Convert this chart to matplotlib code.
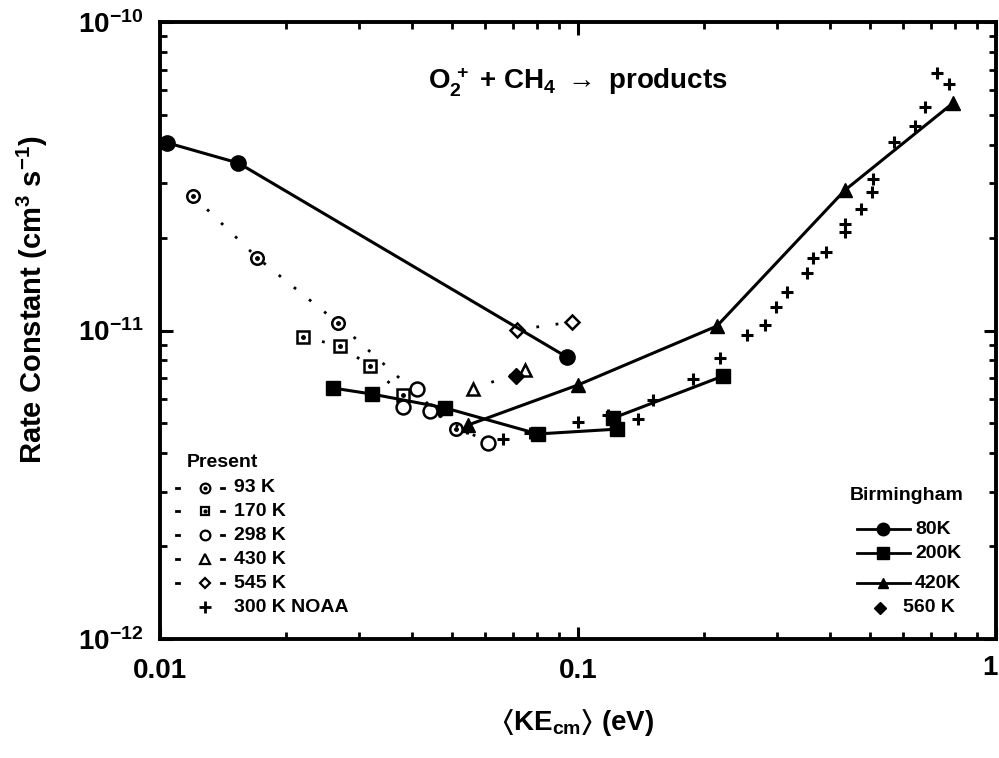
import matplotlib
matplotlib.use("Agg")
import matplotlib.pyplot as plt
from matplotlib.ticker import FixedLocator, FixedFormatter, LogLocator, NullFormatter

# ---------------- data ----------------
# Birmingham
b80_x = [0.0104, 0.0154, 0.0941]
b80_y = [4.06e-11, 3.49e-11, 8.2e-12]
b200_x = [0.0259, 0.0322, 0.0481, 0.0802, 0.1240, 0.1213, 0.2223]
b200_y = [6.51e-12, 6.22e-12, 5.61e-12, 4.62e-12, 4.79e-12, 5.20e-12, 7.12e-12]
b420_x = [0.0546, 0.100, 0.215, 0.435, 0.789]
b420_y = [4.94e-12, 6.66e-12, 1.034e-11, 2.85e-11, 5.46e-11]
b560_x = [0.0711]
b560_y = [7.12e-12]

# Present
p93_x = [0.0120, 0.0171, 0.0267, 0.0511]
p93_y = [2.73e-11, 1.72e-11, 1.057e-11, 4.79e-12]
p170_x = [0.0220, 0.0270, 0.0318, 0.0382]
p170_y = [9.53e-12, 8.91e-12, 7.67e-12, 6.18e-12]
p298_x = [0.0381, 0.0412, 0.0443, 0.0609]
p298_y = [5.65e-12, 6.46e-12, 5.48e-12, 4.32e-12]
p430_x = [0.0561, 0.0747]
p430_y = [6.46e-12, 7.45e-12]
p545_x = [0.0715, 0.0967]
p545_y = [1.005e-11, 1.066e-11]

# 300 K NOAA
noaa_x = [0.0543, 0.0662, 0.0768, 0.100, 0.118, 0.139, 0.151, 0.188, 0.219,
          0.254, 0.280, 0.298, 0.316, 0.353, 0.365, 0.392, 0.435, 0.435,
          0.475, 0.505, 0.508, 0.570, 0.640, 0.676, 0.723, 0.772]
noaa_y = [4.83e-12, 4.45e-12, 4.65e-12, 5.05e-12, 5.32e-12, 5.16e-12, 5.95e-12,
          6.97e-12, 8.14e-12, 9.67e-12, 1.042e-11, 1.192e-11, 1.333e-11,
          1.536e-11, 1.718e-11, 1.797e-11, 2.214e-11, 2.086e-11, 2.476e-11,
          2.81e-11, 3.10e-11, 4.08e-11, 4.60e-11, 5.30e-11, 6.83e-11, 6.30e-11]

x_ticks = [0.01, 0.1, 1]
x_tick_labels = ["0.01", "0.1", ""]
x_last_label = "1"
y_ticks = [1e-12, 1e-11, 1e-10]
y_tick_labels = [r"$10^{-12}$", r"$10^{-11}$", r"$10^{-10}$"]

present_labels = ["93 K", "170 K", "298 K", "430 K", "545 K", "300 K NOAA"]
birm_labels = ["80K", "200K", "420K", "560 K"]

# ---------------- style ----------------
plt.rcParams["font.family"] = ["Liberation Sans", "DejaVu Sans"]
plt.rcParams["font.weight"] = "bold"
plt.rcParams["mathtext.fontset"] = "custom"
plt.rcParams["mathtext.rm"] = "Liberation Sans:bold"
plt.rcParams["mathtext.it"] = "Liberation Sans:bold"
plt.rcParams["mathtext.bf"] = "Liberation Sans:bold"
plt.rcParams["mathtext.sf"] = "Liberation Sans:bold"
plt.rcParams["mathtext.fallback"] = "stixsans"

W, H = 999, 758
fig = plt.figure(figsize=(W / 100, H / 100), dpi=100)
L, R, T, B = 160, 996, 22, 639
ax = fig.add_axes([L / W, 1 - B / H, (R - L) / W, (B - T) / H])
ax.set_xscale("log")
ax.set_yscale("log")
ax.set_xlim(0.01, 1)
ax.set_ylim(1e-12, 1e-10)

K = "black"
DOT = (0, (1, 6))

# Present data (dotted)
def open_pts(x, y, marker, ms, inner=False, ls=DOT):
    ax.plot(x, y, linestyle=ls, color=K, lw=2, marker=marker, ms=ms,
            mfc="white", mec=K, mew=1.8, zorder=3)
    if inner:
        ax.plot(x, y, linestyle="none", marker="o", ms=2.5, color=K, zorder=4)

open_pts(p93_x, p93_y, "o", 9, inner=True)
open_pts(p170_x, p170_y, "s", 8, inner=True)
open_pts(p298_x, p298_y, "o", 10)
open_pts(p430_x, p430_y, "^", 9)
open_pts(p545_x, p545_y, "D", 7)
ax.plot(noaa_x, noaa_y, linestyle="none", marker="+", ms=8.5, mew=2.2, color=K, zorder=3)

# Birmingham (solid)
ax.plot(b80_x, b80_y, "-", color=K, lw=2.2, marker="o", ms=11, zorder=5)
ax.plot(b200_x, b200_y, "-", color=K, lw=2.2, marker="s", ms=10, zorder=5)
ax.plot(b420_x, b420_y, "-", color=K, lw=2.2, marker="^", ms=10, zorder=5)
ax.plot(b560_x, b560_y, linestyle="none", color=K, marker="D", ms=8, zorder=5)

# axes styling
for s in ax.spines.values():
    s.set_linewidth(2.8)
ax.xaxis.set_major_locator(FixedLocator(x_ticks))
ax.xaxis.set_major_formatter(FixedFormatter(x_tick_labels))
ax.yaxis.set_major_locator(FixedLocator(y_ticks))
ax.yaxis.set_major_formatter(FixedFormatter(y_tick_labels))
ax.xaxis.set_minor_locator(LogLocator(base=10, subs=range(2, 10)))
ax.yaxis.set_minor_locator(LogLocator(base=10, subs=range(2, 10)))
ax.xaxis.set_minor_formatter(NullFormatter())
ax.yaxis.set_minor_formatter(NullFormatter())
ax.tick_params(which="both", direction="in", top=True, right=True)
ax.tick_params(which="major", length=9, width=2.2, labelsize=20)
ax.tick_params(which="minor", length=5, width=2)
ax.tick_params(axis="x", which="major", pad=14)
ax.tick_params(axis="y", which="major", pad=12)

def fx(px):
    return px / W

def fy(py):
    return 1 - py / H

# last x tick label, kept inside the canvas
fig.text(fx(998), fy(668), x_last_label, ha="right", va="center", fontsize=20, fontweight="bold")

# title inside plot
fig.text(fx(578), fy(82), r"O$_2^{\,+}$ + CH$_4$ $\rightarrow$ products",
         ha="center", va="center", fontsize=20, fontweight="bold")

# axis labels
fig.text(fx(32), fy(300), r"Rate Constant (cm$^3$ s$^{-1}$)", rotation=90,
         ha="center", va="center", fontsize=21, fontweight="bold")
fig.text(fx(578), fy(722), r"$\langle$KE$_{cm}\rangle$ (eV)",
         ha="center", va="center", fontsize=20, fontweight="bold")

# ---------- "Present" legend ----------
fig.text(fx(187), fy(462), "Present", ha="left", va="center", fontsize=14, fontweight="bold")
rows = [488, 511, 535, 559, 583, 607]
pmarkers = [("o", 7, True), ("s", 6, True), ("o", 7, False), ("^", 7, False), ("D", 5, False)]
for i, lab in enumerate(present_labels):
    yy = fy(rows[i])
    if i < 5:
        m, ms, inner = pmarkers[i]
        for dx in (177, 222):
            fig.add_artist(plt.Line2D([fx(dx - 1.5), fx(dx + 1.5)], [yy, yy], color=K, lw=2))
        fig.add_artist(plt.Line2D([fx(205)], [yy], marker=m, ms=ms, mfc="white", mec=K, mew=1.6, ls="none"))
        if inner:
            fig.add_artist(plt.Line2D([fx(205)], [yy], marker="o", ms=2, color=K, ls="none"))
    else:
        fig.add_artist(plt.Line2D([fx(205)], [yy], marker="+", ms=8, mew=2, color=K, ls="none"))
    fig.text(fx(234), yy, lab, ha="left", va="center", fontsize=14, fontweight="bold")

# ---------- "Birmingham" legend ----------
fig.text(fx(850), fy(495), "Birmingham", ha="left", va="center", fontsize=14, fontweight="bold")
brows = [529, 553, 583, 608]
bmarkers = [("o", 9), ("s", 8), ("^", 7), ("D", 6)]
for i, lab in enumerate(birm_labels):
    yy = fy(brows[i])
    m, ms = bmarkers[i]
    if i < 3:
        fig.add_artist(plt.Line2D([fx(857), fx(910)], [yy, yy], color=K, lw=2))
        fig.add_artist(plt.Line2D([fx(883)], [yy], marker=m, ms=ms, color=K, ls="none"))
        tx = 915
    else:
        fig.add_artist(plt.Line2D([fx(880)], [yy], marker=m, ms=ms, color=K, ls="none"))
        tx = 903
    fig.text(fx(tx), yy, lab, ha="left", va="center", fontsize=14, fontweight="bold")

fig.savefig("out.png", dpi=100)
